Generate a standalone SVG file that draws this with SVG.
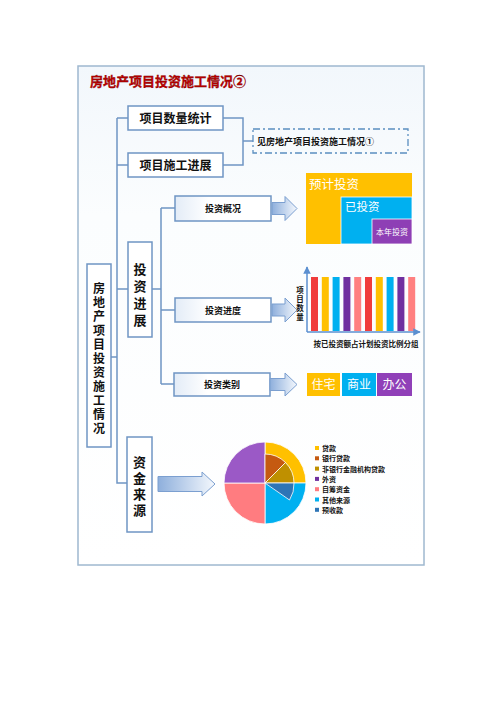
<svg xmlns="http://www.w3.org/2000/svg" width="500" height="708" viewBox="0 0 500 708">
<defs>
<linearGradient id="panelG" x1="0" y1="0" x2="0" y2="1"><stop offset="0" stop-color="#f2f7fc"/><stop offset="0.3" stop-color="#fbfdfe"/><stop offset="1" stop-color="#ffffff"/></linearGradient>
<linearGradient id="boxG" x1="0" y1="0" x2="1" y2="0"><stop offset="0" stop-color="#e3ecf7"/><stop offset="0.35" stop-color="#ffffff"/><stop offset="1" stop-color="#ffffff"/></linearGradient>
<linearGradient id="arrG" x1="0" y1="0" x2="1" y2="0"><stop offset="0" stop-color="#8eafdc"/><stop offset="1" stop-color="#f4f8fd"/></linearGradient>
<marker id="ah" viewBox="0 0 10 10" refX="9" refY="5" markerWidth="5" markerHeight="5" orient="auto"><path d="M0,0 L10,5 L0,10 Z" fill="#5b8fd0"/></marker>
</defs>
<style>
.box{fill:url(#boxG);stroke:#6f95c4;stroke-width:1.5}
.wbox{fill:#ffffff;stroke:#6f95c4;stroke-width:1.5}
.ln{fill:none;stroke:#6f95c4;stroke-width:1.5}
.arr{fill:url(#arrG);stroke:#7b9fd0;stroke-width:1}
.t{font-family:"Noto Sans CJK SC",sans-serif;font-weight:bold;fill:#111;text-anchor:middle}
.v{font-family:"Noto Sans CJK SC",sans-serif;font-weight:bold;fill:#111;writing-mode:vertical-rl;text-anchor:start}
.w{font-family:"Noto Sans CJK SC",sans-serif;fill:#fff}
.lg{font-family:"Noto Sans CJK SC",sans-serif;font-weight:bold;font-size:7px;fill:#111}
.pie path{stroke:#fff;stroke-width:0.8}
</style>
<rect width="500" height="708" fill="#ffffff"/>
<g id="panel">
<rect x="78" y="66" width="346" height="499" fill="url(#panelG)" stroke="#9fb8cf" stroke-width="1.5"/>
<text x="90" y="86" font-family="'Noto Sans CJK SC',sans-serif" font-weight="bold" font-size="13" fill="#c00000" stroke="#7a0000" stroke-width="0.3">房地产项目投资施工情况②</text>
</g>
<g id="connectors">
<path class="ln" d="M117,118 V483 H127"/>
<path class="ln" d="M117,118 H128 M117,165 H128 M111,357 H117 M117,289 H128"/>
<path class="ln" d="M223,118 H243 V165 H223 M243,141 H253"/>
<path class="ln" d="M152,289 H161 M161,208 V384 M161,208 H175 M161,310 H175 M161,384 H174"/>
</g>
<g id="n_stats"><rect class="wbox" x="128" y="106" width="95" height="24"/><text class="t" x="175.5" y="122.5" font-size="12">项目数量统计</text></g>
<g id="n_progress"><rect class="wbox" x="128" y="153" width="95" height="24"/><text class="t" x="175.5" y="169.5" font-size="12">项目施工进展</text></g>
<g id="n_see"><rect x="253" y="129" width="155" height="24" fill="none" stroke="#5b8fc0" stroke-width="1.3" stroke-dasharray="7,3,2,3"/><text class="t" x="257" y="145" font-size="9" style="text-anchor:start">见房地产项目投资施工情况①</text></g>
<g id="n_main"><rect class="wbox" x="87" y="264" width="24" height="183"/>
<text class="v" x="99" y="282" font-size="12" letter-spacing="2">房地产项目投资施工情况</text>
</g>
<g id="n_invest"><rect class="wbox" x="128" y="242" width="24" height="95"/>
<text class="v" x="140" y="263" font-size="13" letter-spacing="4">投资进展</text></g>
<g id="n_fund"><rect class="wbox" x="127" y="437" width="25" height="95"/>
<text class="v" x="139.5" y="456" font-size="13" letter-spacing="3">资金来源</text></g>
<g id="n_overview"><rect class="box" x="175" y="196" width="96" height="25"/><text class="t" x="223" y="212" font-size="9">投资概况</text></g>
<g id="n_schedule"><rect class="box" x="175" y="298" width="96" height="24"/><text class="t" x="223" y="313.5" font-size="9">投资进度</text></g>
<g id="n_category"><rect class="box" x="174" y="373" width="96" height="23"/><text class="t" x="222" y="388" font-size="9">投资类别</text></g>
<g id="arrows">
<path class="arr" d="M272,202.5 H285 V196.5 L297,208.5 L285,220.5 V214.5 H272 Z"/>
<path class="arr" d="M272,304 H285 V298 L297,310 L285,322 V316 H272 Z"/>
<path class="arr" d="M270,378.5 H285 V373 L297,384.5 L285,396 V390.5 H270 Z"/>
<path class="arr" d="M158,476.5 H202 V472 L215,484 L202,496 V491.5 H158 Z"/>
</g>
<g id="treemap">
<rect x="306" y="173" width="106" height="71" fill="#ffc000"/>
<rect x="341" y="197" width="71" height="47" fill="#00b0f0" stroke="#fff" stroke-width="0.8"/>
<rect x="372" y="219" width="40" height="25" fill="#8e3fb5" stroke="#fff" stroke-width="0.8"/>
<text class="w" x="309" y="189" font-size="12.5">预计投资</text>
<text class="w" x="345" y="211" font-size="11.5">已投资</text>
<text class="w" x="376" y="235" font-size="8">本年投资</text>
</g>
<g id="barchart">
<rect x="311" y="277" width="7" height="54" fill="#f03c3c"/>
<rect x="321.8" y="277" width="7" height="54" fill="#ffc000"/>
<rect x="332.6" y="277" width="7" height="54" fill="#00b0f0"/>
<rect x="343.4" y="277" width="7" height="54" fill="#7030a0"/>
<rect x="354.2" y="277" width="7" height="54" fill="#ff8080"/>
<rect x="365" y="277" width="7" height="54" fill="#f03c3c"/>
<rect x="375.8" y="277" width="7" height="54" fill="#ffc000"/>
<rect x="386.6" y="277" width="7" height="54" fill="#00b0f0"/>
<rect x="397.4" y="277" width="7" height="54" fill="#7030a0"/>
<rect x="408.2" y="277" width="7" height="54" fill="#ff8080"/>
<path d="M307,332 V267" stroke="#5b8fd0" stroke-width="1.5" fill="none" marker-end="url(#ah)"/>
<path d="M307,332 H420" stroke="#5b8fd0" stroke-width="1.5" fill="none" marker-end="url(#ah)"/>
<text class="v" x="300" y="286" font-size="7.5" letter-spacing="1.5">项目数量</text>
<text class="t" x="366" y="347" font-size="7.5">按已投资额占计划投资比例分组</text>
</g>
<g id="types">
<rect x="307" y="373" width="33" height="23" fill="#ffc000"/><text class="w" x="323.5" y="389" font-size="12" text-anchor="middle">住宅</text>
<rect x="342" y="373" width="34" height="23" fill="#00b0f0"/><text class="w" x="359" y="389" font-size="12" text-anchor="middle">商业</text>
<rect x="377" y="373" width="35" height="23" fill="#9040b8"/><text class="w" x="394.5" y="389" font-size="12" text-anchor="middle">办公</text>
</g>
<g id="pie" class="pie">
<path d="M265,483 L265,442 A41,41 0 0 1 306,483 Z" fill="#ffc000"/>
<path d="M265,483 L306,483 A41,41 0 0 1 265,524 Z" fill="#00b0f0"/>
<path d="M265,483 L265,524 A41,41 0 0 1 224,483 Z" fill="#ff7c80"/>
<path d="M265,483 L224,483 A41,41 0 0 1 265,442 Z" fill="#9b59c6"/>
<path d="M265,483 L265,454 A29,29 0 0 1 285.5,462.5 Z" fill="#c55a11"/>
<path d="M265,483 L285.5,462.5 A29,29 0 0 1 294,483 Z" fill="#bf9000"/>
<path d="M265,483 L294,483 A29,29 0 0 1 289.5,500 Z" fill="#2e75b6"/>
</g>
<g id="legend">
<rect x="315" y="446" width="4" height="4" fill="#ffc000"/><text class="lg" x="322" y="451">贷款</text>
<rect x="315" y="456.3" width="4" height="4" fill="#c55a11"/><text class="lg" x="322" y="461.3">银行贷款</text>
<rect x="315" y="466.6" width="4" height="4" fill="#bf9000"/><text class="lg" x="322" y="471.6">非银行金融机构贷款</text>
<rect x="315" y="476.9" width="4" height="4" fill="#7030a0"/><text class="lg" x="322" y="481.9">外资</text>
<rect x="315" y="487.2" width="4" height="4" fill="#ff7c80"/><text class="lg" x="322" y="492.2">自筹资金</text>
<rect x="315" y="497.5" width="4" height="4" fill="#00b0f0"/><text class="lg" x="322" y="502.5">其他来源</text>
<rect x="315" y="507.8" width="4" height="4" fill="#2e75b6"/><text class="lg" x="322" y="512.8">预收款</text>
</g>
</svg>
